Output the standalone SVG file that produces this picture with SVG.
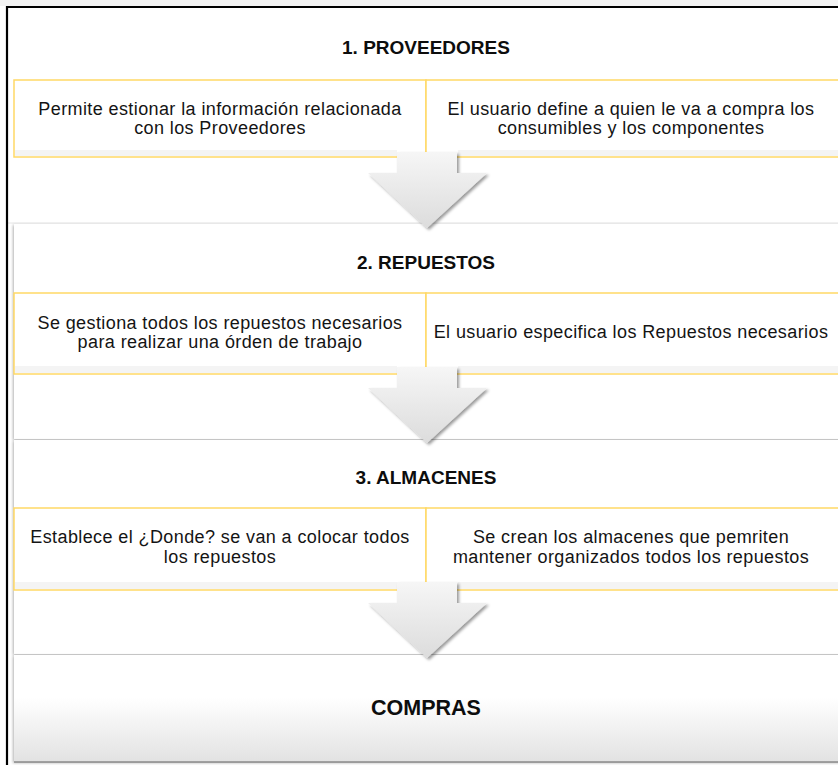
<svg xmlns="http://www.w3.org/2000/svg" width="838" height="765" viewBox="0 0 838 765">
  <defs>
    <style>
      .panel { fill: #ffffff; }
      .row { fill: #ffffff; stroke: #ffd966; stroke-width: 1.5; }
      .strip { fill: #f4f4f4; }
      .title { font-family: "Liberation Sans", Arial, sans-serif; font-weight: bold; font-size: 19px; fill: #0d0d0d; text-anchor: middle; }
      .big { font-family: "Liberation Sans", Arial, sans-serif; font-weight: bold; font-size: 21.5px; fill: #0d0d0d; text-anchor: middle; }
      .body { font-family: "Liberation Sans", Arial, sans-serif; font-size: 18px; letter-spacing: 0.4px; fill: #141414; text-anchor: middle; }
      .arrow { fill: url(#arrowGrad); filter: url(#arrowShadow); }
    </style>
    <linearGradient id="arrowGrad" x1="0" y1="0" x2="0" y2="1">
      <stop offset="0" stop-color="#f6f6f6"/>
      <stop offset="1" stop-color="#dcdcdc"/>
    </linearGradient>
    <linearGradient id="lastGrad" x1="0" y1="0" x2="0" y2="1">
      <stop offset="0" stop-color="#ffffff"/>
      <stop offset="0.4" stop-color="#ffffff"/>
      <stop offset="1" stop-color="#e2e2e2"/>
    </linearGradient>
    <filter id="panelShadow" x="-5%" y="-10%" width="110%" height="125%">
      <feDropShadow dx="-1" dy="1" stdDeviation="1.5" flood-color="#000000" flood-opacity="0.3"/>
    </filter>
    <filter id="arrowShadow" x="-20%" y="-20%" width="140%" height="140%">
      <feDropShadow dx="2" dy="2" stdDeviation="1.5" flood-color="#000000" flood-opacity="0.4"/>
    </filter>
  </defs>

  <rect x="0" y="0" width="838" height="765" fill="#ffffff"/>
  <rect x="0" y="0" width="838" height="6" fill="#f3f3f3"/>

  <g id="panel-proveedores">
    <rect class="panel" x="8" y="8" width="830" height="215"/>
    <line x1="8" y1="223" x2="838" y2="223" stroke="#e6e6e6" stroke-width="1"/>
    <text class="title" x="426" y="54">1. PROVEEDORES</text>
    <rect class="row" x="14" y="80" width="412" height="77"/>
    <rect class="row" x="426" y="80" width="416" height="77"/>
    <rect class="strip" x="15" y="150" width="382" height="6"/>
    <rect class="strip" x="458" y="150" width="380" height="6"/>
    <text class="body" x="220" y="115">Permite estionar la información relacionada</text>
    <text class="body" x="220" y="134">con los Proveedores</text>
    <text class="body" x="631" y="115">El usuario define a quien le va a compra los</text>
    <text class="body" x="631" y="134">consumibles y los componentes</text>
  </g>

  <g id="panel-repuestos">
    <rect class="panel" x="14" y="224" width="830" height="215" filter="url(#panelShadow)"/>
    <text class="title" x="426" y="269">2. REPUESTOS</text>
    <rect class="row" x="14" y="293" width="412" height="81"/>
    <rect class="row" x="426" y="293" width="416" height="81"/>
    <rect class="strip" x="15" y="366" width="382" height="7"/>
    <rect class="strip" x="458" y="366" width="380" height="7"/>
    <text class="body" x="220" y="329">Se gestiona todos los repuestos necesarios</text>
    <text class="body" x="220" y="348">para realizar una órden de trabajo</text>
    <text class="body" x="631" y="338">El usuario especifica los Repuestos necesarios</text>
  </g>

  <g id="panel-almacenes">
    <rect class="panel" x="14" y="440" width="830" height="214" filter="url(#panelShadow)"/>
    <text class="title" x="426" y="484">3. ALMACENES</text>
    <rect class="row" x="14" y="508" width="412" height="82"/>
    <rect class="row" x="426" y="508" width="416" height="82"/>
    <rect class="strip" x="15" y="582" width="382" height="7"/>
    <rect class="strip" x="458" y="582" width="380" height="7"/>
    <text class="body" x="220" y="543">Establece el ¿Donde? se van a colocar todos</text>
    <text class="body" x="220" y="563">los repuestos</text>
    <text class="body" x="631" y="543">Se crean los almacenes que pemriten</text>
    <text class="body" x="631" y="563">mantener organizados todos los repuestos</text>
  </g>

  <g id="panel-compras">
    <rect x="14" y="655" width="830" height="107" fill="url(#lastGrad)" filter="url(#panelShadow)"/>
    <line x1="14" y1="762" x2="838" y2="762" stroke="#8a8a8a" stroke-width="1.5"/>
    <text class="big" x="426" y="715">COMPRAS</text>
  </g>

  <g id="connectors">
    <polygon class="arrow" points="397,152 457,152 457,173 487,173 427,228 368,173 397,173"/>
    <polygon class="arrow" points="397,367 457,367 457,388 487,388 427,443 368,388 397,388"/>
    <polygon class="arrow" points="397,582 457,582 457,603 487,603 427,658 368,603 397,603"/>
  </g>

  <g id="frame">
    <line x1="6" y1="7" x2="838" y2="7" stroke="#000000" stroke-width="2.2"/>
    <line x1="7" y1="6" x2="7" y2="765" stroke="#000000" stroke-width="2.2"/>
  </g>
</svg>
